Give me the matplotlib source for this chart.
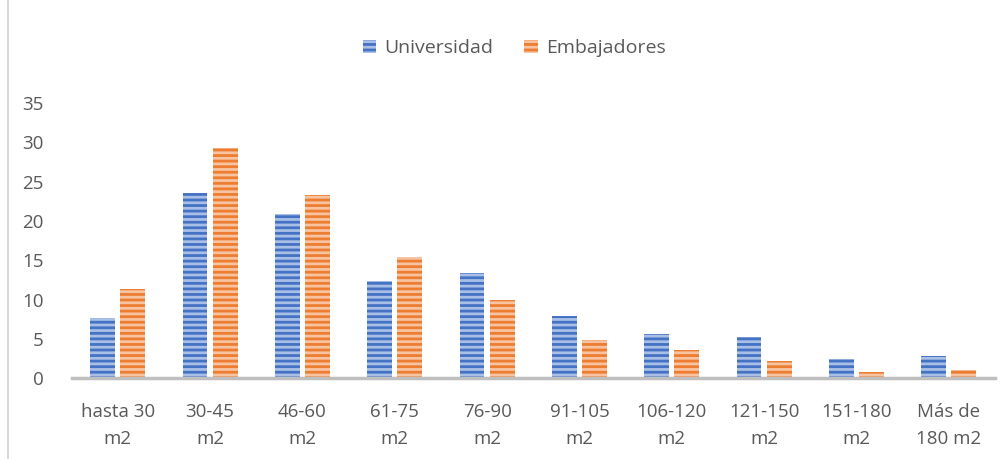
import matplotlib.pyplot as plt
import numpy as np
from matplotlib.patches import Rectangle

categories = ['hasta 30\nm2', '30-45\nm2', '46-60\nm2', '61-75\nm2', '76-90\nm2',
              '91-105\nm2', '106-120\nm2', '121-150\nm2', '151-180\nm2', 'Más de\n180 m2']
universidad = [7.6, 23.5, 20.9, 12.3, 13.4, 7.9, 5.6, 5.2, 2.5, 2.8]
embajadores = [11.3, 29.3, 23.3, 15.4, 9.9, 4.8, 3.6, 2.2, 0.8, 1.1]

plt.rcParams['font.family'] = ['Open Sans', 'DejaVu Sans']
plt.rcParams['hatch.linewidth'] = 2.0
grey = '#595959'

fig = plt.figure(figsize=(10.08, 4.59), dpi=100)
ax = fig.add_axes([0.071, 0.176, 0.916, 0.6])

x = np.arange(len(categories))
w = 0.27
ax.bar(x - w/2 - 0.028, universidad, w, color='#4472C4', edgecolor='#A9BFE6',
       hatch='---', linewidth=0, label='Universidad')
ax.bar(x + w/2 + 0.028, embajadores, w, color='#ED7D31', edgecolor='#F7C3A0',
       hatch='---', linewidth=0, label='Embajadores')

ax.set_xlim(-0.5, len(categories) - 0.5)
ax.set_ylim(0, 35)
ax.set_yticks(range(0, 36, 5))
ax.set_xticks(x)
ax.set_xticklabels(categories, linespacing=1.65)
ax.tick_params(axis='both', length=0, labelsize=13.5, colors=grey)
ax.tick_params(axis='x', pad=18)
ax.tick_params(axis='y', pad=20)
for s in ['top', 'right', 'left']:
    ax.spines[s].set_visible(False)
ax.spines['bottom'].set_color('#BFBFBF')
ax.spines['bottom'].set_linewidth(2.5)

leg = fig.legend(loc='center', bbox_to_anchor=(0.51, 0.895), ncol=2, frameon=False,
                 fontsize=14, handlelength=0.7, handleheight=0.7, columnspacing=1.6,
                 handletextpad=0.4)
for t in leg.get_texts():
    t.set_color(grey)

fig.patches.append(Rectangle((0.008, -0.01), 1.0, 1.02, transform=fig.transFigure,
                             fill=False, edgecolor='#D9D9D9', linewidth=1.5))

fig.savefig('out.png', dpi=100)
